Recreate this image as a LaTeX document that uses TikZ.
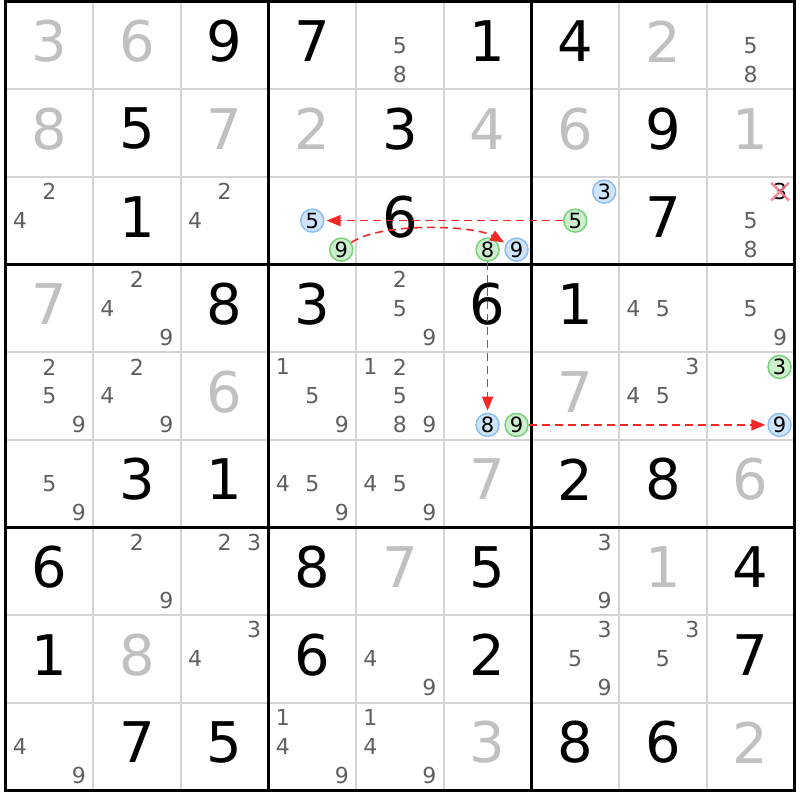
\documentclass[tikz,border=0pt]{standalone}
\usepackage{fontspec}
\setmainfont{DejaVu Sans}
\usetikzlibrary{arrows.meta,shapes.misc}
\definecolor{solvedgray}{RGB}{192,192,192}
\definecolor{candgray}{RGB}{95,95,95}
\definecolor{thinline}{RGB}{212,212,212}
\definecolor{bluefill}{RGB}{206,228,250}
\definecolor{blueline}{RGB}{140,190,240}
\definecolor{greenfill}{RGB}{206,240,206}
\definecolor{greenline}{RGB}{120,210,120}
\definecolor{arrowred}{RGB}{245,40,40}
\definecolor{xred}{RGB}{240,120,135}
\tikzset{
  givenstyle/.style={inner sep=0pt, font=\fontsize{56}{56}\selectfont, text=black},
  solvedstyle/.style={inner sep=0pt, font=\fontsize{56}{56}\selectfont, text=solvedgray},
  candstyle/.style={inner sep=0pt, font=\fontsize{22}{22}\selectfont, text=candgray},
  bluecirc/.style={circle, minimum size=23pt, inner sep=0pt, fill=bluefill, draw=blueline, line width=1.5pt, font=\fontsize{21}{21}\selectfont},
  greencirc/.style={circle, minimum size=23pt, inner sep=0pt, fill=greenfill, draw=greenline, line width=1.5pt, font=\fontsize{21}{21}\selectfont},
  linkarrow/.style={draw=arrowred, line width=1.6pt, dash pattern=on 8pt off 5pt, -{Triangle[length=14pt,width=11pt]}, shorten >=2pt, shorten <=0pt},
  xmarkstyle/.style={cross out, draw=xred, draw opacity=0.85, line width=2.6pt, minimum size=15pt, inner sep=0pt},
}
\begin{document}
\begin{tikzpicture}[x=1pt,y=1pt]
\useasboundingbox (0,0) rectangle (800,800);
\fill[white] (0,0) rectangle (800,800);
\def\s{87.65}
\def\ox{5.5}
\def\oy{798.5}
% thin lines
\foreach \i in {1,2,4,5,7,8}{
  \draw[thinline, line width=2pt] ({\ox+\s*\i},{\oy}) -- ({\ox+\s*\i},{\oy-9*\s});
  \draw[thinline, line width=2pt] ({\ox},{\oy-\s*\i}) -- ({\ox+9*\s},{\oy-\s*\i});
}
% thick lines
\foreach \i in {0,3,6,9}{
  \draw[black, line width=3pt] ({\ox+\s*\i},{\oy+1.5}) -- ({\ox+\s*\i},{\oy-9*\s-1.5});
  \draw[black, line width=3pt] ({\ox-1.5},{\oy-\s*\i}) -- ({\ox+9*\s+1.5},{\oy-\s*\i});
}
% given digits
\foreach \rr/\cc/\dd in {0/2/9,0/3/7,0/5/1,0/6/4,1/1/5,1/4/3,1/7/9,2/1/1,2/4/6,2/7/7,
  3/2/8,3/3/3,3/5/6,3/6/1,5/1/3,5/2/1,5/6/2,5/7/8,6/0/6,6/3/8,6/5/5,6/8/4,
  7/0/1,7/3/6,7/5/2,7/8/7,8/1/7,8/2/5,8/6/8,8/7/6}{
  \node[givenstyle] (g\rr\cc) at ({\ox+\s*(\cc+0.5)},{\oy-\s*(\rr+0.5)+4}) {\dd};
}
% solved digits
\foreach \rr/\cc/\dd in {0/0/3,0/1/6,0/7/2,1/0/8,1/2/7,1/3/2,1/5/4,1/6/6,1/8/1,
  3/0/7,4/2/6,4/6/7,5/5/7,5/8/6,6/4/7,6/7/1,7/1/8,8/5/3,8/8/2}{
  \node[solvedstyle] (s\rr\cc) at ({\ox+\s*(\cc+0.5)},{\oy-\s*(\rr+0.5)+4}) {\dd};
}
% candidates
\foreach \rr/\cc/\dd in {0/4/5,0/4/8,0/8/5,0/8/8,2/0/2,2/0/4,2/2/2,2/2/4,2/8/5,2/8/8,
  3/1/2,3/1/4,3/1/9,3/4/2,3/4/5,3/4/9,3/7/4,3/7/5,3/8/5,3/8/9,
  4/0/2,4/0/5,4/0/9,4/1/2,4/1/4,4/1/9,4/3/1,4/3/5,4/3/9,4/4/1,4/4/2,4/4/5,4/4/8,4/4/9,4/7/3,4/7/4,4/7/5,
  5/0/5,5/0/9,5/3/4,5/3/5,5/3/9,5/4/4,5/4/5,5/4/9,
  6/1/2,6/1/9,6/2/2,6/2/3,6/6/3,6/6/9,
  7/2/3,7/2/4,7/4/4,7/4/9,7/6/3,7/6/5,7/6/9,7/7/3,7/7/5,
  8/0/4,8/0/9,8/3/1,8/3/4,8/3/9,8/4/1,8/4/4,8/4/9}{
  \pgfmathsetmacro\dx{(mod(\dd-1,3)-1)*29.5}
  \pgfmathsetmacro\dy{-(floor((\dd-1)/3)-1)*29}
  \node[candstyle] (k\rr\cc\dd) at ({\ox+\s*(\cc+0.5)+\dx},{\oy-\s*(\rr+0.5)+\dy}) {\dd};
}
% crossed-out candidate 3 in r2c8
\node[candstyle, text=black] (k283) at ({\ox+\s*8.5+29.5},{\oy-\s*2.5+29}) {3};
\node[xmarkstyle] (x283) at (k283) {};
% circled candidates
\node[bluecirc]  (b235) at ({\ox+\s*3.5},{\oy-\s*2.5}) {5};
\node[greencirc] (c239) at ({\ox+\s*3.5+29},{\oy-\s*2.5-29}) {9};
\node[greencirc] (c258) at ({\ox+\s*5.5},{\oy-\s*2.5-29}) {8};
\node[bluecirc]  (b259) at ({\ox+\s*5.5+29},{\oy-\s*2.5-29}) {9};
\node[bluecirc]  (b263) at ({\ox+\s*6.5+29},{\oy-\s*2.5+29}) {3};
\node[greencirc] (c265) at ({\ox+\s*6.5},{\oy-\s*2.5}) {5};
\node[bluecirc]  (b458) at ({\ox+\s*5.5},{\oy-\s*4.5-29}) {8};
\node[greencirc] (c459) at ({\ox+\s*5.5+29},{\oy-\s*4.5-29}) {9};
\node[greencirc] (c483) at ({\ox+\s*8.5+29},{\oy-\s*4.5+29}) {3};
\node[bluecirc]  (b489) at ({\ox+\s*8.5+29},{\oy-\s*4.5-29}) {9};
% links
\draw[linkarrow] (c265) -- (b235);
\draw[linkarrow] (c239) to[out=35, in=150, looseness=0.6] (b259);
\draw[linkarrow] (c258) -- (b458);
\draw[linkarrow] (c459) -- (b489);
\end{tikzpicture}
\end{document}
